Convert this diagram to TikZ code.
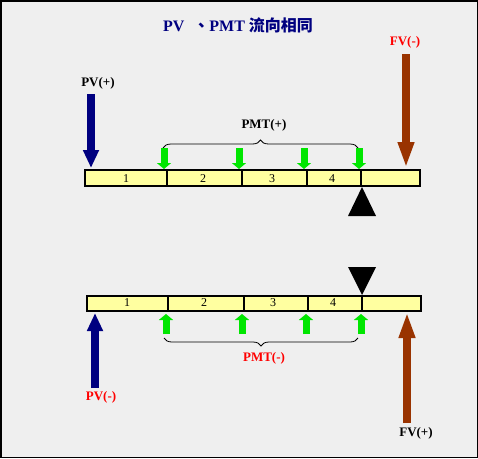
\documentclass[tikz,border=0pt]{standalone}
\usepackage{fontspec}
\setmainfont{Liberation Serif}
\newfontfamily\cjk{Noto Sans CJK TC Bold}
\usetikzlibrary{arrows.meta,decorations.pathreplacing}
\definecolor{bgc}{HTML}{EFEFEF}
\definecolor{navyc}{HTML}{000080}
\definecolor{brownc}{HTML}{993300}
\definecolor{greenc}{HTML}{00E600}
\definecolor{barc}{HTML}{FFFFA0}
\definecolor{redc}{HTML}{FF0000}
\tikzset{
  lbl/.style={font=\fontsize{13}{13}\selectfont\bfseries, inner sep=0pt},
  num/.style={font=\fontsize{12}{12}\selectfont, inner sep=0pt},
  bar/.style={draw=black, line width=2pt, fill=barc},
  divider/.style={draw=black, line width=1.2pt},
  pvarrow/.style={draw=navyc, line width=8pt, -{Triangle[width=15pt,length=18pt]}},
  fvarrow/.style={draw=brownc, line width=8pt, -{Triangle[width=15pt,length=26pt]}},
  pmtarrow/.style={draw=greenc, line width=7pt, -{Triangle[width=14pt,length=6pt]}},
  bracestyle/.style={draw=black, line width=0.8pt, decorate, decoration={brace, amplitude=8pt}},
  pivot/.style={fill=black}
}
\begin{document}
\begin{tikzpicture}[x=1pt,y=-1pt]
\useasboundingbox (0,0) rectangle (478,458);
\fill[bgc] (0,0) rectangle (478,458);
\draw[black, line width=1.5pt] (0.75,0.75) rectangle (477.25,457.25);

% title
\node[font=\fontsize{16}{16}\selectfont\bfseries, text=navyc, inner sep=0pt] (title) at (238,25)
  {PV\hspace{9pt}{\cjk 、}PMT {\cjk 流向相同}};

% ---------------- top diagram ----------------
\draw[bar] (85,170) rectangle (420,186);
\coordinate (t1) at (167,170); \coordinate (t1b) at (167,186);
\coordinate (t2) at (242,170); \coordinate (t2b) at (242,186);
\coordinate (t3) at (307,170); \coordinate (t3b) at (307,186);
\coordinate (t4) at (361,170); \coordinate (t4b) at (361,186);
\draw[divider] (t1) -- (t1b);
\draw[divider] (t2) -- (t2b);
\draw[divider] (t3) -- (t3b);
\draw[divider] (t4) -- (t4b);
\node[num] (tn1) at (126,179) {1};
\node[num] (tn2) at (203,179) {2};
\node[num] (tn3) at (272,179) {3};
\node[num] (tn4) at (332,179) {4};

\node[lbl] (pvp) at (98,83) {PV(+)};
\coordinate (pvps) at (91,94); \coordinate (pvpe) at (91,168);
\draw[pvarrow] (pvps) -- (pvpe);

\node[lbl, text=redc] (fvm) at (405,42) {FV(-)};
\coordinate (fvms) at (406,54); \coordinate (fvme) at (406,168);
\draw[fvarrow] (fvms) -- (fvme);

\node[lbl] (pmtp) at (264,125) {PMT(+)};
\coordinate (tb1) at (163,148); \coordinate (tb2) at (358,148);
\draw[bracestyle] (tb1) -- (tb2);
\foreach \x/\n in {164/a,239/b,304/c,359/d}{
  \coordinate (tg\n s) at (\x,148); \coordinate (tg\n e) at (\x,169);
  \draw[pmtarrow] (tg\n s) -- (tg\n e);
}
\fill[pivot] (362,187) -- (348,216) -- (376,216) -- cycle;

% ---------------- bottom diagram ----------------
\draw[bar] (87,296) rectangle (421,311);
\coordinate (b1) at (168,296); \coordinate (b1b) at (168,311);
\coordinate (b2) at (244,296); \coordinate (b2b) at (244,311);
\coordinate (b3) at (308,296); \coordinate (b3b) at (308,311);
\coordinate (b4) at (362,296); \coordinate (b4b) at (362,311);
\draw[divider] (b1) -- (b1b);
\draw[divider] (b2) -- (b2b);
\draw[divider] (b3) -- (b3b);
\draw[divider] (b4) -- (b4b);
\node[num] (bn1) at (127,303) {1};
\node[num] (bn2) at (204,303) {2};
\node[num] (bn3) at (273,303) {3};
\node[num] (bn4) at (333,303) {4};

\fill[pivot] (348,267) -- (376,267) -- (362,295) -- cycle;

\node[lbl, text=redc] (pvm) at (101,397) {PV(-)};
\coordinate (pvms) at (95,388); \coordinate (pvme) at (95,313);
\draw[pvarrow] (pvms) -- (pvme);

\node[lbl] (fvp) at (416,433) {FV(+)};
\coordinate (fvps) at (407,423); \coordinate (fvpe) at (407,312);
\draw[fvarrow] (fvps) -- (fvpe);

\node[lbl, text=redc] (pmtm) at (264,358) {PMT(-)};
\coordinate (bb1) at (164,338); \coordinate (bb2) at (358,338);
\draw[bracestyle] (bb2) -- (bb1);
\foreach \x/\n in {166/a,242/b,306/c,361/d}{
  \coordinate (bg\n s) at (\x,334); \coordinate (bg\n e) at (\x,314);
  \draw[pmtarrow] (bg\n s) -- (bg\n e);
}
\end{tikzpicture}
\end{document}
